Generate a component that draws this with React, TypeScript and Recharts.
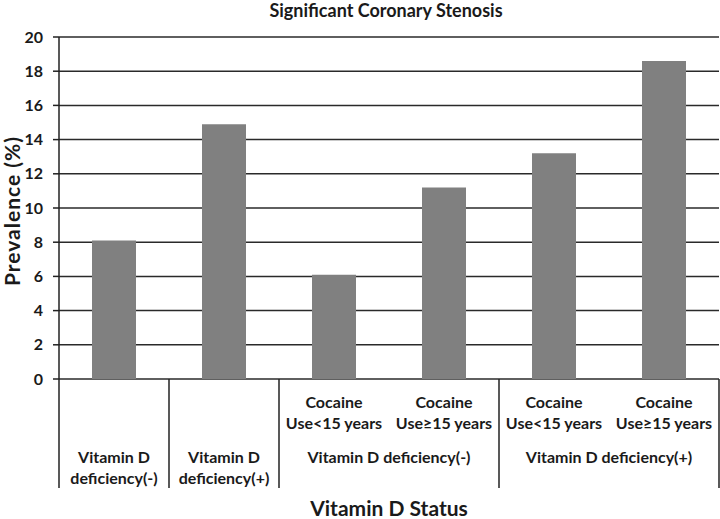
import { BarChart, Bar, XAxis, YAxis, CartesianGrid, Label } from 'recharts'

const W = 720
const H = 519
const FONT = 'Lato, "Open Sans", sans-serif'

// one bar per subgroup
const categories = ['vdNeg', 'vdPos', 'vdNegLt15', 'vdNegGe15', 'vdPosLt15', 'vdPosGe15']
const prevalence = [8.1, 14.9, 6.1, 11.2, 13.2, 18.6]

// labels under each bar, top row and bottom row
const cocaineLabels = [null, null, ['Cocaine', 'Use<15 years'], ['Cocaine', 'Use≥15 years'], ['Cocaine', 'Use<15 years'], ['Cocaine', 'Use≥15 years']]
const vitaminLabels = [['Vitamin D', 'deficiency(-)'], ['Vitamin D', 'deficiency(+)'], null, null, null, null]
// group label spans two bars, drawn at the first index of the pair
const groupLabels: { [i: number]: string } = { 2: 'Vitamin D deficiency(-)', 4: 'Vitamin D deficiency(+)' }
const dividerBefore = [0, 1, 2, 4]

const yTicks = [0, 2, 4, 6, 8, 10, 12, 14, 16, 18, 20]

const margin = { top: 37, right: 1, left: 0, bottom: 0 }
const Y_AXIS_W = 59
const X_AXIS_H = 140
const band = (W - margin.left - margin.right - Y_AXIS_W) / categories.length

const data = categories.map((c, i) => ({ key: c, value: prevalence[i] }))

const txt = { fontFamily: FONT, fontWeight: 700, fontSize: 16, fill: '#1a1a1a' }

function CategoryTick(props: any) {
  const { x, y, index } = props
  const left = x - band / 2
  const lines: any[] = []
  if (dividerBefore.includes(index)) {
    lines.push(<line key="l" x1={left} x2={left} y1={y} y2={y + 109} stroke="#222" strokeWidth={1.5} />)
  }
  if (index === categories.length - 1) {
    lines.push(<line key="r" x1={left + band} x2={left + band} y1={y} y2={y + 109} stroke="#222" strokeWidth={1.5} />)
  }
  const coc = cocaineLabels[index]
  const vit = vitaminLabels[index]
  const grp = groupLabels[index]
  return (
    <g>
      {lines}
      {coc && (
        <text x={x} y={y + 29} textAnchor="middle" style={txt}>
          <tspan x={x}>{coc[0]}</tspan>
          <tspan x={x} dy={21}>{coc[1]}</tspan>
        </text>
      )}
      {vit && (
        <text x={x} y={y + 84} textAnchor="middle" style={txt}>
          <tspan x={x}>{vit[0]}</tspan>
          <tspan x={x} dy={21}>{vit[1]}</tspan>
        </text>
      )}
      {grp && (
        <text x={left + band} y={y + 84} textAnchor="middle" style={txt}>{grp}</text>
      )}
    </g>
  )
}

function YLabel(props: any) {
  const vb = props.viewBox
  const cx = vb.x + 11
  const cy = vb.y + vb.height / 2 + 3
  return (
    <text x={cx} y={cy} transform={`rotate(-90, ${cx}, ${cy})`} textAnchor="middle" dominantBaseline="central"
      style={{ fontFamily: FONT, fontWeight: 700, fontSize: 21, letterSpacing: 1, fill: '#1a1a1a' }}>
      Prevalence (%)
    </text>
  )
}

export default function App() {
  return (
    <div style={{ position: 'absolute', left: 0, top: 0, width: W, height: H, background: '#fff' }}>
      <div style={{ position: 'absolute', left: 0, top: 0, width: 772, textAlign: 'center', fontFamily: FONT, fontWeight: 700, fontSize: 18, lineHeight: '20px', color: '#1a1a1a' }}>
        Significant Coronary Stenosis
      </div>
      <BarChart width={W} height={H} data={data} margin={margin} barCategoryGap="30%">
        <CartesianGrid vertical={false} stroke="#2a2a2a" strokeWidth={1.5} strokeOpacity={1} />
        <XAxis dataKey="key" height={X_AXIS_H} axisLine={false} tickLine={false} tickSize={0} tickMargin={0}
          interval={0} tick={<CategoryTick />}>
          <Label position="insideBottom" offset={3} value="Vitamin D Status"
            style={{ fontFamily: FONT, fontWeight: 700, fontSize: 21, fill: '#1a1a1a' }} />
        </XAxis>
        <YAxis width={Y_AXIS_W} domain={[0, 20]} ticks={yTicks} interval={0}
          axisLine={{ stroke: '#222', strokeWidth: 1.5 }} tickLine={{ stroke: '#222', strokeWidth: 1.5 }}
          tickSize={6} tickMargin={10} tick={{ ...txt, fill: '#1a1a1a' }} label={<YLabel />} />
        <Bar dataKey="value" fill="#808080" isAnimationActive={false} />
      </BarChart>
    </div>
  )
}
